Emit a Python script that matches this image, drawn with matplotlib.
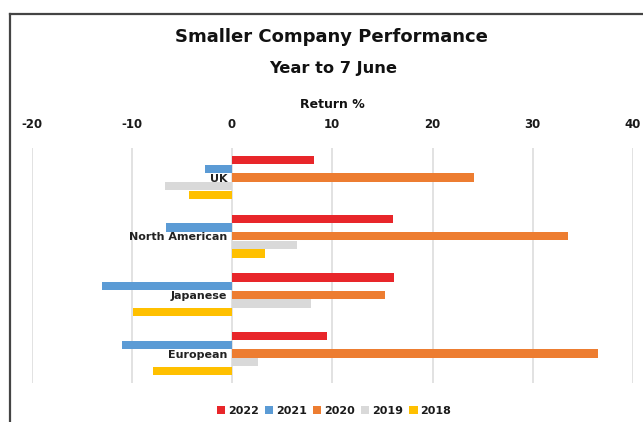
import matplotlib
matplotlib.use("Agg")
import matplotlib.pyplot as plt
from matplotlib.lines import Line2D
from matplotlib.patches import Patch
import numpy as np

categories = ["UK", "North American", "Japanese", "European"]
years = ["2022", "2021", "2020", "2019", "2018"]
v2022 = [8.2, 16.1, 16.2, 9.5]
v2021 = [-2.7, -6.6, -13.0, -11.0]
v2020 = [24.1, 33.5, 15.3, 36.5]
v2019 = [-6.7, 6.5, 7.9, 2.6]
v2018 = [-4.3, 3.3, -9.9, -7.9]
series = [v2022, v2021, v2020, v2019, v2018]
colors = ["#E8262A", "#5B9BD5", "#ED7D31", "#D9D9D9", "#FFC000"]
xticks = [-20, -10, 0, 10, 20, 30, 40]

W, H = 643, 422
fig = plt.figure(figsize=(W / 100, H / 100), dpi=100)
fig.patch.set_facecolor("white")

ax = fig.add_axes([31.5 / W, 1 - 383 / H, 601.5 / W, 235 / H])
ax.set_xlim(-20, 40)
ax.set_ylim(len(categories) - 0.5, -0.5)

bh = 0.148
for i, (vals, c) in enumerate(zip(series, colors)):
    y = np.arange(len(categories)) + (i - 2) * bh
    ax.barh(y, vals, height=bh * 0.95, color=c, zorder=3)

for t in xticks:
    ax.axvline(t, color="#E2E2E2", lw=1.4, zorder=1)

ax.set_xticks(xticks)
ax.set_xticklabels([str(t) for t in xticks])
ax.xaxis.tick_top()
ax.tick_params(axis="x", length=0, pad=12, labelsize=8.5, labelcolor="#1a1a1a")
for lab in ax.get_xticklabels():
    lab.set_fontweight("bold")
ax.set_yticks([])
for s in ax.spines.values():
    s.set_visible(False)

for j, cat in enumerate(categories):
    ax.text(-0.45, j + 0.02, cat, ha="right", va="center", fontsize=8, fontweight="bold",
            color="#222222", zorder=4)

fig.text(331 / W, 1 - 37 / H, "Smaller Company Performance", ha="center", va="center",
         fontsize=13, fontweight="bold", color="#111111")
fig.text(333 / W, 1 - 69 / H, "Year to 7 June", ha="center", va="center",
         fontsize=11.7, fontweight="bold", color="#111111")
fig.text(332 / W, 1 - 105 / H, "Return %", ha="center", va="center",
         fontsize=9, fontweight="bold", color="#111111")

handles = [Patch(facecolor=c, edgecolor="none") for c in colors]
leg = fig.legend(handles, years, loc="center", bbox_to_anchor=(334 / W, 1 - 411 / H),
                 ncol=5, frameon=False, fontsize=8, handlelength=0.75, handleheight=0.75,
                 handletextpad=0.25, columnspacing=0.55, borderpad=0)
for t in leg.get_texts():
    t.set_fontweight("bold")
    t.set_color("#1a1a1a")

fig.add_artist(Line2D([10 / W, 1.0], [1 - 14 / H, 1 - 14 / H], color="#444444", lw=1.6,
                      transform=fig.transFigure))
fig.add_artist(Line2D([10 / W, 10 / W], [0, 1 - 14 / H], color="#444444", lw=1.6,
                      transform=fig.transFigure))

fig.savefig("out.png", dpi=100)
